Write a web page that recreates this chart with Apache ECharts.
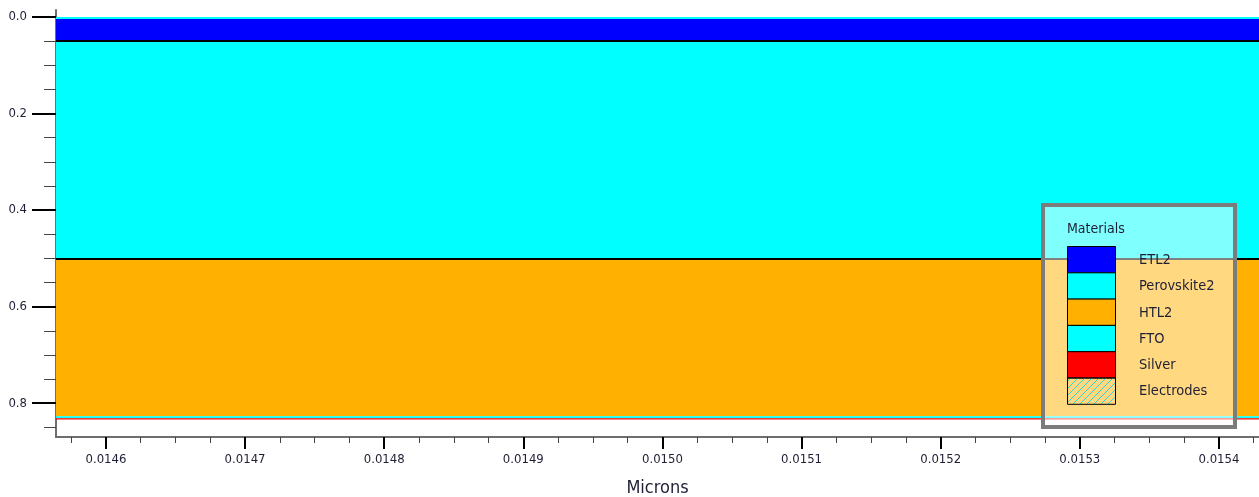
<!DOCTYPE html>
<html>
<head>
<meta charset="utf-8">
<script src="https://cdn.jsdelivr.net/npm/echarts@6/dist/echarts.min.js"></script>
<style>
  html, body { margin: 0; padding: 0; background: #ffffff; }
  #chart { width: 1259px; height: 497px; }
</style>
</head>
<body>
<div id="chart"></div>
<script>
// Layer stack of the device cross-section (depth in microns, top to bottom)
const layerMaterials = ['FTO', 'ETL2', 'Perovskite2', 'HTL2', 'FTO', 'Silver'];
const layerTop       = [0.000, 0.004, 0.050, 0.500, 0.827, 0.831];
const layerBottom    = [0.004, 0.050, 0.500, 0.827, 0.831, 0.834];

// Interfaces outlined with a black boundary line
const boundaryDepths = [0.05, 0.5];

// Materials legend entries
const legendNames  = ['ETL2', 'Perovskite2', 'HTL2', 'FTO', 'Silver', 'Electrodes'];
const materialColors = {
  ETL2: '#0000ff',
  Perovskite2: '#00ffff',
  HTL2: '#ffb000',
  FTO: '#00ffff',
  Silver: '#ff0000'
};

// Axis ranges and tick labels
const xRange = [0.0145641, 0.0154288];
const yRange = [-0.0145, 0.870];
const xMajorTicks = [0.0146, 0.0147, 0.0148, 0.0149, 0.0150, 0.0151, 0.0152, 0.0153, 0.0154];
const yMajorTicks = [0.0, 0.2, 0.4, 0.6, 0.8];

const xMinorTicks = [];
for (let i = 0; i <= 34; i++) {
  const v = +(0.014575 + i * 0.000025).toFixed(7);
  if (Math.abs(v * 10000 - Math.round(v * 10000)) > 1e-6) xMinorTicks.push(v);
}
const yMinorTicks = [];
for (let i = 1; i <= 17; i++) {
  const v = +(i * 0.05).toFixed(3);
  if (Math.abs(v * 5 - Math.round(v * 5)) > 1e-6) yMinorTicks.push(v);
}

const layerData = layerMaterials.map((m, i) => [layerTop[i], layerBottom[i], i]);

// Hatch pattern for the electrodes swatch
const hatch = document.createElement('canvas');
hatch.width = 7; hatch.height = 7;
(function () {
  const c = hatch.getContext('2d');
  c.strokeStyle = '#2fd6d6';
  c.lineWidth = 1;
  c.beginPath();
  c.moveTo(-1, 8); c.lineTo(8, -1);
  c.moveTo(-1, 1); c.lineTo(1, -1);
  c.moveTo(6, 8); c.lineTo(8, 6);
  c.stroke();
})();

const FONT = '"DejaVu Sans Condensed", "DejaVu Sans", sans-serif';
const TEXT_COLOR = '#1e1e34';
const tickFont = { fontFamily: FONT, fontSize: 13, color: TEXT_COLOR };

const chart = echarts.init(document.getElementById('chart'), null, { renderer: 'canvas' });

// Legend panel built from the entries above
const legendX = 1043, legendY = 205, legendW = 192, legendH = 222;
const swX = 1067, swY = 246, swW = 48, swH = 26.3;
const legendGraphics = [
  {
    type: 'rect', z: 100,
    shape: { x: legendX, y: legendY, width: legendW, height: legendH },
    style: { fill: 'rgba(255,255,255,0.5)', stroke: '#7c7c7c', lineWidth: 4 }
  },
  {
    type: 'text', z: 101, x: 1067, y: 229,
    style: { text: 'Materials', fontFamily: FONT, fontSize: 14, fill: TEXT_COLOR, verticalAlign: 'middle' }
  }
];
legendNames.forEach((name, i) => {
  const y = swY + i * swH;
  legendGraphics.push({
    type: 'rect', z: 101,
    shape: { x: swX + 0.5, y: y + 0.5, width: swW, height: swH },
    style: {
      fill: materialColors[name] ? materialColors[name] : { image: hatch, repeat: 'repeat' },
      stroke: '#000000', lineWidth: 1
    }
  });
  legendGraphics.push({
    type: 'text', z: 101, x: 1139, y: y + swH / 2 + 1,
    style: { text: name, fontFamily: FONT, fontSize: 14.5, fill: TEXT_COLOR, verticalAlign: 'middle' }
  });
});

const option = {
  animation: false,
  backgroundColor: '#ffffff',
  grid: { left: 56, right: 0, top: 10, bottom: 60, containLabel: false, outerBoundsMode: 'none' },
  xAxis: [
    {
      type: 'value', min: xRange[0], max: xRange[1], position: 'bottom',
      name: 'Microns', nameLocation: 'middle', nameGap: 42,
      nameTextStyle: { fontFamily: FONT, fontSize: 18, color: TEXT_COLOR },
      axisLine: { show: true, onZero: false, lineStyle: { color: '#6e6e6e', width: 2 } },
      axisTick: { show: true, inside: false, length: 12, customValues: xMajorTicks, lineStyle: { color: '#000000', width: 2 } },
      axisLabel: { show: true, margin: 16, customValues: xMajorTicks, formatter: v => v.toFixed(4), ...tickFont },
      splitLine: { show: false }
    },
    {
      type: 'value', min: xRange[0], max: xRange[1], position: 'bottom',
      axisLine: { show: false, onZero: false },
      axisTick: { show: true, inside: false, length: 6, customValues: xMinorTicks, lineStyle: { color: '#444444', width: 1 } },
      axisLabel: { show: false },
      splitLine: { show: false }
    }
  ],
  yAxis: [
    {
      type: 'value', min: yRange[0], max: yRange[1], inverse: true, position: 'left',
      axisLine: { show: true, onZero: false, lineStyle: { color: '#6e6e6e', width: 2 } },
      axisTick: { show: true, inside: false, length: 24, customValues: yMajorTicks, lineStyle: { color: '#000000', width: 2 } },
      axisLabel: { show: true, margin: 29, customValues: yMajorTicks, formatter: v => v.toFixed(1), ...tickFont },
      splitLine: { show: false }
    },
    {
      type: 'value', min: yRange[0], max: yRange[1], inverse: true, position: 'left',
      axisLine: { show: false, onZero: false },
      axisTick: { show: true, inside: false, length: 12, customValues: yMinorTicks, lineStyle: { color: '#444444', width: 1 } },
      axisLabel: { show: false },
      splitLine: { show: false }
    }
  ],
  series: [
    {
      type: 'custom',
      xAxisIndex: 0, yAxisIndex: 0,
      clip: true,
      silent: true,
      data: layerData,
      renderItem: function (params, api) {
        const top = api.value(0), bottom = api.value(1), idx = api.value(2);
        const p0 = api.coord([xRange[0], top]);
        const p1 = api.coord([xRange[1], bottom]);
        const cs = params.coordSys;
        return {
          type: 'rect',
          shape: echarts.graphic.clipRectByRect(
            { x: p0[0], y: p0[1], width: p1[0] - p0[0], height: p1[1] - p0[1] },
            { x: cs.x, y: cs.y, width: cs.width, height: cs.height }
          ),
          style: { fill: materialColors[layerMaterials[idx]] }
        };
      },
      markLine: {
        silent: true,
        symbol: 'none',
        label: { show: false },
        lineStyle: { color: '#000000', width: 2, type: 'solid' },
        data: boundaryDepths.map(d => ({ yAxis: d }))
      }
    }
  ],
  graphic: legendGraphics
};

chart.setOption(option);
</script>
</body>
</html>
